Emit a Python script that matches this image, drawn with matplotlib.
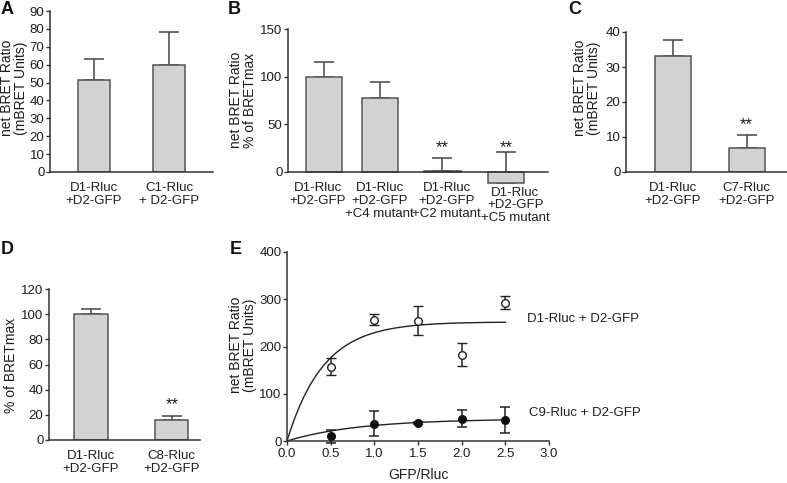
import matplotlib
matplotlib.use('Agg')
import matplotlib.pyplot as plt
import numpy as np

plt.rcParams['font.family'] = ['Liberation Sans', 'DejaVu Sans']
plt.rcParams['font.size'] = 9

W, H = 787, 483
txt = '#1e1e1e'
barFill = '#d2d2d2'
barEdge = '#555555'

#panel A data
aLabels = ['D1-Rluc\n+D2-GFP', 'C1-Rluc\n+ D2-GFP']
aVals = [51.5, 60]
aErr = [11.5, 18]
#panel B data
bLabels = ['D1-Rluc\n+D2-GFP', 'D1-Rluc\n+D2-GFP\n+C4 mutant',
           'D1-Rluc\n+D2-GFP\n+C2 mutant', 'D1-Rluc\n+D2-GFP\n+C5 mutant']
bVals = [100, 78, 1, -12]
bErr = [15, 16, 14, 33]
bStars = [False, False, True, True]
#panel C data
cLabels = ['D1-Rluc\n+D2-GFP', 'C7-Rluc\n+D2-GFP']
cVals = [33, 6.8]
cErr = [4.7, 3.9]
cStars = [False, True]
#panel D data
dLabels = ['D1-Rluc\n+D2-GFP', 'C8-Rluc\n+D2-GFP']
dVals = [100, 16]
dErr = [4, 3]
dStars = [False, True]
#panel E data
eX = [0.5, 1.0, 1.5, 2.0, 2.5]
eD1 = [157, 257, 255, 183, 293]
eD1err = [18, 12, 30, 25, 14]
eC9 = [10, 37, 38, 47, 44]
eC9err = [14, 26, 3, 18, 28]
#saturation fit parameters (Bmax, rate)
fitD1 = (252, 2.4)
fitC9 = (47, 1.2)

fig = plt.figure(figsize=(W / 100, H / 100), dpi=100)

#make axes from pixel box (left, top, right, bottom)
def pixAxes(l, t, r, b):
    return fig.add_axes([l / W, 1 - b / H, (r - l) / W, (b - t) / H])

def styleAxes(ax):
    for s in ['top', 'right']:
        ax.spines[s].set_visible(False)
    for s in ['left', 'bottom']:
        ax.spines[s].set_color('#333333')
        ax.spines[s].set_linewidth(1.1)
    ax.tick_params(axis='y', direction='out', length=3, width=1, colors='#333333',
                   labelcolor=txt, labelsize=9.5, pad=1)

def barPanel(ax, labels, vals, errs, stars, xlim, ylim, yticks, width, starY,
             pos=None, labelPos=None, labelDrop=None):
    x = np.arange(len(vals)) if pos is None else np.array(pos)
    lx = x if labelPos is None else labelPos
    drop = [0] * len(vals) if labelDrop is None else labelDrop
    #upper error only, as in the original bar graphs
    ax.errorbar(x, vals, yerr=[[0] * len(errs), errs], fmt='none', ecolor='#444444',
                elinewidth=1.1, capsize=7.5, capthick=1.1, zorder=1)
    ax.bar(x, vals, width=width, color=barFill, edgecolor=barEdge, linewidth=1.1, zorder=2)
    for i in range(len(vals)):
        if stars[i]:
            ax.text(x[i], starY, '**', ha='center', va='center', fontsize=12, color=txt)
        #category label hung under the zero line
        ax.annotate(labels[i], xy=(lx[i], 0), xytext=(0, -7.5 - drop[i]),
                    textcoords='offset points', ha='center', va='top', color=txt,
                    fontsize=9.5, linespacing=1.1, annotation_clip=False)
    ax.set_xlim(xlim)
    ax.set_ylim(ylim)
    ax.set_yticks(yticks)
    ax.set_xticks([])
    styleAxes(ax)
    ax.spines['bottom'].set_position(('data', 0))
    ax.spines['left'].set_bounds(ylim[0] if ylim[0] >= 0 else 0, yticks[-1])

#panel A
axA = pixAxes(50, 11, 213, 172)
barPanel(axA, aLabels, aVals, aErr, [False, False], (-0.58, 1.58), (0, 90),
         np.arange(0, 91, 10), 0.43, 0)
fig.text(14 / W, 1 - 88 / H, 'net BRET Ratio\n(mBRET Units)', rotation=90, ha='center',
         va='center', color=txt, fontsize=10, linespacing=1.05)

#panel B
axB = pixAxes(288, 29, 548, 186.3)
barPanel(axB, bLabels, bVals, bErr, bStars, (-0.59, 3.69), (-15, 150),
         [0, 50, 100, 150], 0.6, 26, pos=[0, 0.92, 1.95, 3.0],
         labelPos=[-0.1, 0.92, 2.02, 3.15], labelDrop=[0, 0, 0, 3])
fig.text(243 / W, 1 - 100 / H, 'net BRET Ratio\n% of BRETmax', rotation=90, ha='center',
         va='center', color=txt, fontsize=10, linespacing=1.05)

#panel C
axC = pixAxes(626, 32, 787, 172)
barPanel(axC, cLabels, cVals, cErr, cStars, (-0.64, 1.55), (0, 40),
         [0, 10, 20, 30, 40], 0.49, 13.5)
fig.text(587 / W, 1 - 88 / H, 'net BRET Ratio\n(mBRET Units)', rotation=90, ha='center',
         va='center', color=txt, fontsize=10, linespacing=1.05)

#panel D
axD = pixAxes(49, 289, 200, 440)
barPanel(axD, dLabels, dVals, dErr, dStars, (-0.52, 1.35), (0, 120),
         np.arange(0, 121, 20), 0.41, 28)
fig.text(11 / W, 1 - 365 / H, '% of BRETmax', rotation=90, ha='center',
         va='center', color=txt, fontsize=10)

#panel E
axE = pixAxes(287, 252, 549, 441)
xf = np.linspace(0, 2.5, 200)
axE.plot(xf, fitD1[0] * (1 - np.exp(-fitD1[1] * xf)), color='#222222', lw=1)
axE.plot(xf, fitC9[0] * (1 - np.exp(-fitC9[1] * xf)), color='#222222', lw=1)
axE.errorbar(eX, eD1, yerr=eD1err, fmt='o', mfc='white', mec='#222222', mew=1,
             ms=5.5, ecolor='#222222', elinewidth=1.1, capsize=3.5, capthick=1.1,
             zorder=3, clip_on=False)
axE.errorbar(eX, eC9, yerr=eC9err, fmt='o', mfc='#111111', mec='#111111',
             ms=5.5, ecolor='#222222', elinewidth=1.1, capsize=3.5, capthick=1.1,
             zorder=3, clip_on=False)
axE.set_xlim(0, 3)
axE.set_ylim(0, 400)
axE.set_xticks(np.arange(0, 3.01, 0.5))
axE.set_xticklabels(['%.1f' % v for v in np.arange(0, 3.01, 0.5)])
axE.set_yticks([0, 100, 200, 300, 400])
styleAxes(axE)
axE.tick_params(axis='x', direction='out', length=3, width=1, colors='#333333',
                labelcolor=txt, labelsize=9.5, pad=2)
axE.spines['left'].set_bounds(0, 400)
axE.text(0.916, 0.645, 'D1-Rluc + D2-GFP', transform=axE.transAxes, ha='left', va='center',
         color=txt, fontsize=9.5)
axE.text(0.924, 0.148, 'C9-Rluc + D2-GFP', transform=axE.transAxes, ha='left', va='center',
         color=txt, fontsize=9.5)
fig.text(418 / W, 1 - 482 / H, 'GFP/Rluc', ha='center', va='bottom', color=txt, fontsize=10)
fig.text(243 / W, 1 - 345 / H, 'net BRET Ratio\n(mBRET Units)', rotation=90, ha='center',
         va='center', color=txt, fontsize=10, linespacing=1.05)

#panel letters
for letter, px, py in [('A', 7, 10), ('B', 234, 9), ('C', 575, 9), ('D', 7, 250), ('E', 236, 249)]:
    fig.text(px / W, 1 - py / H, letter, ha='center', va='center', fontsize=13,
             fontweight='bold', color='#111111')

fig.savefig('out.png', dpi=100)
